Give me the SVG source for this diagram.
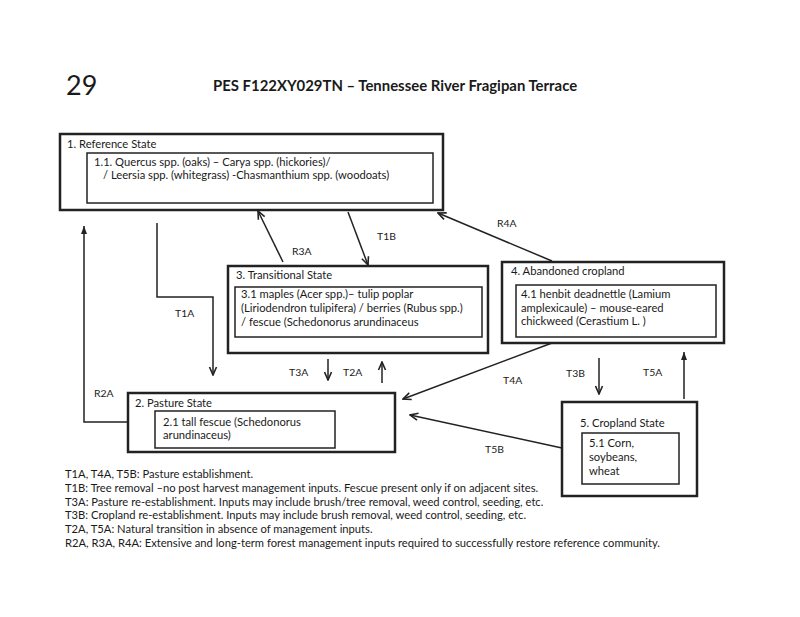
<svg xmlns="http://www.w3.org/2000/svg" width="800" height="617" viewBox="0 0 800 617">
<style>
text{font-family:Lato,"Open Sans","Liberation Sans",sans-serif;fill:#1a1a1a;font-size:11.2px}
.lbl{font-size:10.4px}
.outer{fill:#fff;stroke:#222;stroke-width:2.5}
.inner{fill:#fff;stroke:#222;stroke-width:1.5}
.c{fill:none;stroke:#222;stroke-width:1.5}
</style>
<defs>
<marker id="v" markerUnits="userSpaceOnUse" markerWidth="10" markerHeight="10" viewBox="0 0 10 10" refX="9" refY="5" orient="auto">
<path d="M1,1.5 L9,5 L1,8.5" fill="none" stroke="#222" stroke-width="1.6"/>
</marker>
<marker id="f" markerUnits="userSpaceOnUse" markerWidth="10" markerHeight="10" viewBox="0 0 10 10" refX="9" refY="5" orient="auto">
<path d="M1,2 L9,5 L1,8 z" fill="#222"/>
</marker>
</defs>
<rect width="800" height="617" fill="#fff"/>
<text x="66" y="95" style="font-size:27px">29</text>
<text x="213" y="91" style="font-size:14.9px;font-weight:bold">PES F122XY029TN –  Tennessee River Fragipan Terrace</text>

<g id="connectors">
<polyline class="c" points="128,422 84,422 84,226" marker-end="url(#f)"/>
<polyline class="c" points="157,223 157,297 213,297 213,375" marker-end="url(#v)"/>
<line class="c" x1="283" y1="262" x2="258" y2="211" marker-end="url(#v)"/>
<line class="c" x1="348" y1="212" x2="368" y2="265" marker-end="url(#v)"/>
<line class="c" x1="552" y1="261" x2="438" y2="213" marker-end="url(#v)"/>
<line class="c" x1="328" y1="359" x2="328" y2="380" marker-end="url(#v)"/>
<line class="c" x1="382" y1="383" x2="382" y2="362" marker-end="url(#v)"/>
<line class="c" x1="552" y1="343" x2="403" y2="399" marker-end="url(#v)"/>
<line class="c" x1="562" y1="448" x2="410" y2="415" marker-end="url(#v)"/>
<line class="c" x1="599" y1="358" x2="599" y2="394" marker-end="url(#v)"/>
<line class="c" x1="684" y1="399" x2="684" y2="352" marker-end="url(#f)"/>
<text class="lbl" x="94" y="397">R2A</text>
<text class="lbl" x="175" y="317">T1A</text>
<text class="lbl" x="292" y="255">R3A</text>
<text class="lbl" x="377" y="240">T1B</text>
<text class="lbl" x="497" y="227">R4A</text>
<text class="lbl" x="289" y="376">T3A</text>
<text class="lbl" x="343" y="376">T2A</text>
<text class="lbl" x="503" y="384">T4A</text>
<text class="lbl" x="485" y="453">T5B</text>
<text class="lbl" x="566" y="377">T3B</text>
<text class="lbl" x="643" y="376">T5A</text>
</g>

<g id="reference">
<rect class="outer" x="60" y="134" width="383" height="76"/>
<rect class="inner" x="87" y="153" width="346" height="50"/>
<text x="67" y="148">1. Reference State</text>
<text x="94" y="166">1.1. Quercus spp. (oaks) – Carya spp. (hickories)/</text>
<text x="103" y="179">/ Leersia spp. (whitegrass) -Chasmanthium spp. (woodoats)</text>
</g>

<g id="transitional">
<rect class="outer" x="228" y="266" width="260" height="87"/>
<rect class="inner" x="235" y="287" width="247" height="50"/>
<text x="236" y="279">3. Transitional State</text>
<text x="241" y="298">3.1 maples (Acer spp.)– tulip poplar</text>
<text x="241" y="312">(Liriodendron tulipifera) / berries (Rubus spp.)</text>
<text x="241" y="326">/ fescue (Schedonorus arundinaceus</text>
</g>

<g id="abandoned">
<rect class="outer" x="502" y="262" width="222" height="81"/>
<rect class="inner" x="516" y="285" width="200" height="52"/>
<text x="511" y="275">4. Abandoned cropland</text>
<text x="521" y="298">4.1 henbit deadnettle (Lamium</text>
<text x="521" y="312">amplexicaule) – mouse-eared</text>
<text x="521" y="325">chickweed (Cerastium L. )</text>
</g>

<g id="pasture">
<rect class="outer" x="128" y="393" width="267" height="59"/>
<rect class="inner" x="155" y="411" width="180" height="37"/>
<text x="135" y="407">2. Pasture State</text>
<text x="163" y="426">2.1 tall fescue (Schedonorus</text>
<text x="163" y="439">arundinaceus)</text>
</g>

<g id="cropland">
<rect class="outer" x="562" y="402" width="135" height="94"/>
<rect class="inner" x="582" y="433" width="97" height="51"/>
<text x="580" y="427">5. Cropland State</text>
<text x="589" y="447">5.1 Corn,</text>
<text x="589" y="461">soybeans,</text>
<text x="589" y="475">wheat</text>
</g>

<g id="legend">
<text x="65" y="478">T1A, T4A, T5B: Pasture establishment.</text>
<text x="65" y="492">T1B: Tree removal –no post harvest management inputs. Fescue present only if on adjacent sites.</text>
<text x="65" y="506">T3A: Pasture re-establishment.  Inputs may include brush/tree removal, weed control, seeding, etc.</text>
<text x="65" y="519">T3B: Cropland re-establishment. Inputs may include brush removal, weed control, seeding, etc.</text>
<text x="65" y="533">T2A, T5A: Natural transition in absence of management inputs.</text>
<text x="65" y="547">R2A, R3A, R4A: Extensive and long-term forest management inputs required to successfully restore reference community.</text>
</g>
</svg>
